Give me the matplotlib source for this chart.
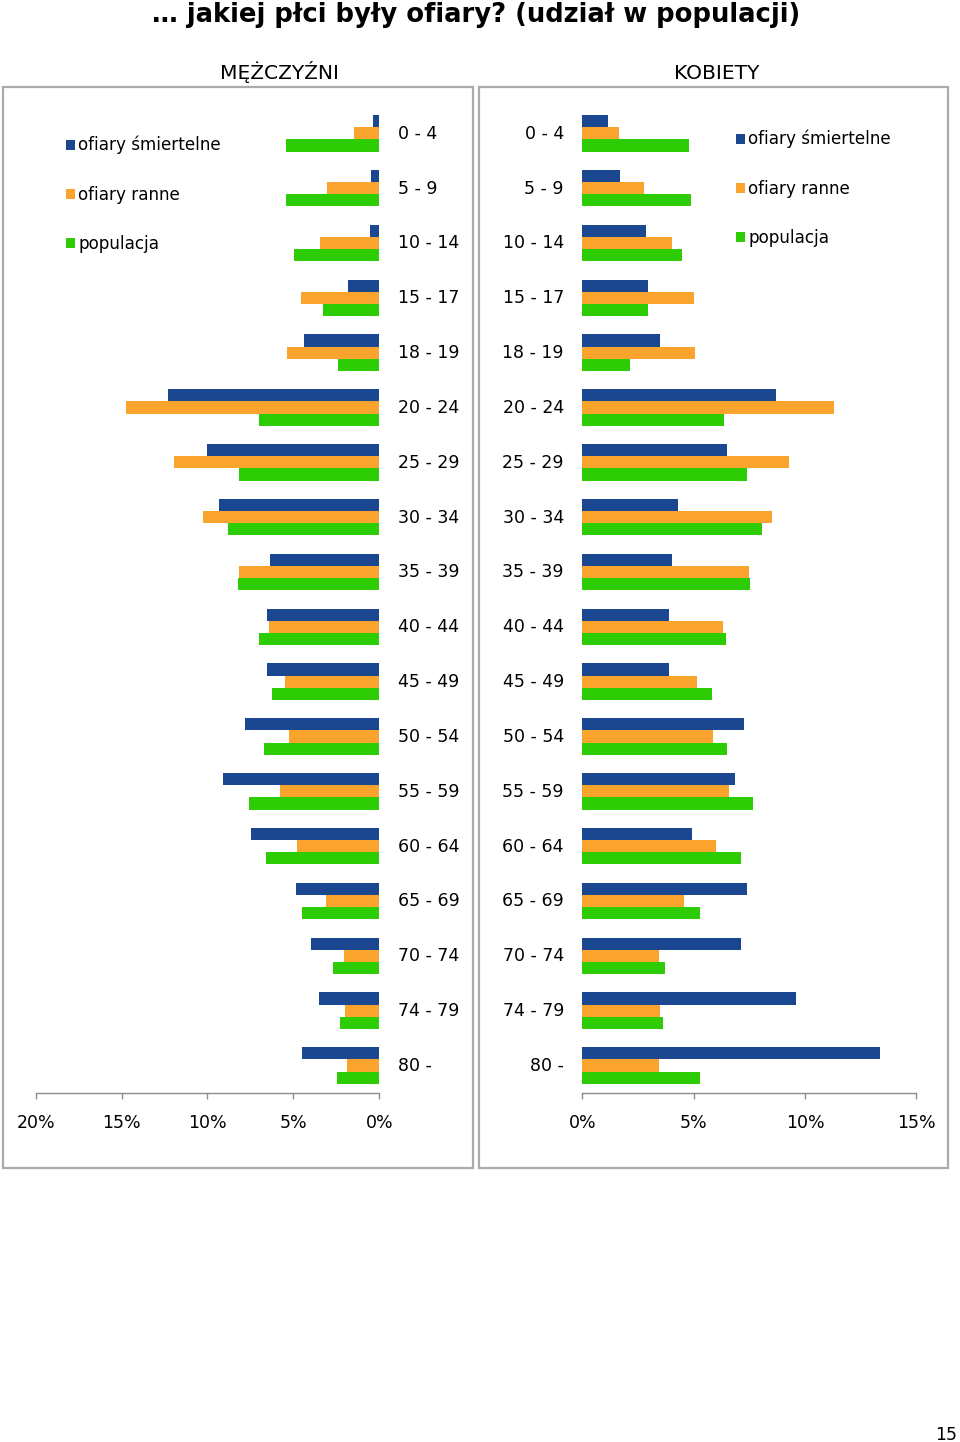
import matplotlib
matplotlib.use('Agg')
import matplotlib.pyplot as plt
from matplotlib.patches import Rectangle
import numpy as np

plt.rcParams['font.family'] = ['DejaVu Sans']

# ---------------- data ----------------
title = '… jakiej płci były ofiary? (udział w populacji)'
panel_titles = ['MĘŻCZYŹNI', 'KOBIETY']
age_groups = ['0 - 4', '5 - 9', '10 - 14', '15 - 17', '18 - 19', '20 - 24', '25 - 29',
              '30 - 34', '35 - 39', '40 - 44', '45 - 49', '50 - 54', '55 - 59',
              '60 - 64', '65 - 69', '70 - 74', '74 - 79', '80 -']
series_names = ['ofiary śmiertelne', 'ofiary ranne', 'populacja']

men_killed = [0.37, 0.50, 0.56, 1.84, 4.37, 12.32, 10.02, 9.32, 6.38, 6.52, 6.52,
              7.84, 9.08, 7.47, 4.83, 3.96, 3.51, 4.50]
men_injured = [1.46, 3.06, 3.45, 4.54, 5.38, 14.75, 11.96, 10.29, 8.17, 6.42, 5.49,
               5.28, 5.80, 4.79, 3.08, 2.07, 1.98, 1.88]
men_population = [5.42, 5.45, 4.99, 3.30, 2.41, 7.02, 8.15, 8.83, 8.25, 7.02, 6.25,
                  6.73, 7.57, 6.60, 4.48, 2.71, 2.29, 2.46]

women_killed = [1.17, 1.68, 2.86, 2.96, 3.50, 8.70, 6.48, 4.28, 4.03, 3.91, 3.91,
                7.28, 6.87, 4.93, 7.41, 7.14, 9.61, 13.38]
women_injured = [1.66, 2.78, 4.01, 5.03, 5.07, 11.30, 9.28, 8.52, 7.50, 6.30, 5.16,
                 5.87, 6.57, 5.99, 4.58, 3.43, 3.49, 3.46]
women_population = [4.80, 4.88, 4.46, 2.95, 2.16, 6.35, 7.40, 8.07, 7.54, 6.47, 5.84,
                     6.50, 7.65, 7.14, 5.27, 3.70, 3.62, 5.27]

men_ticks = [20, 15, 10, 5, 0]
women_ticks = [0, 5, 10, 15]
page_number = '15'

# ---------------- style ----------------
colors = ['#1B4790', '#FAA42D', '#2ECC05']
W, H = 960, 1442
FS = 12.5
GRAY = '#8C8C8C'


def fx(x):
    return x / W


def fy(y):
    return 1 - y / H


fig = plt.figure(figsize=(W / 100, H / 100), dpi=100)

# panel frames
for (x0, x1) in [(3, 473), (479, 948)]:
    fig.add_artist(Rectangle((fx(x0), fy(1168)), fx(x1) - fx(x0), fy(87) - fy(1168),
                             transform=fig.transFigure, facecolor='white',
                             edgecolor='#ABABAB', linewidth=1.6, zorder=0))

fig.text(fx(476), fy(22.5), title, ha='center', va='baseline', fontsize=18.6,
         fontweight='bold', color='black')
fig.text(fx(280), fy(79), panel_titles[0], ha='center', va='baseline', fontsize=14.6)
fig.text(fx(717), fy(79), panel_titles[1], ha='center', va='baseline', fontsize=14.6)

top_px, bot_px = 105.9, 1092.9
axL = fig.add_axes([fx(35.7), fy(bot_px), fx(379.3) - fx(35.7), fy(top_px) - fy(bot_px)])
axR = fig.add_axes([fx(582.3), fy(bot_px), fx(916.3) - fx(582.3), fy(top_px) - fy(bot_px)])

y = np.arange(len(age_groups))
bh = 0.2225
offsets = [-bh, 0, bh]

for ax, data, ticks in [(axL, [men_killed, men_injured, men_population], men_ticks),
                        (axR, [women_killed, women_injured, women_population], women_ticks)]:
    for k in range(3):
        ax.barh(y + offsets[k], data[k], height=bh, color=colors[k], linewidth=0,
                label=series_names[k])
    ax.set_ylim(len(age_groups) - 0.5, -0.5)
    ax.set_yticks(y - 0.03)
    ax.set_yticklabels(age_groups, fontsize=FS)
    ax.set_xticks(ticks)
    ax.set_xticklabels([f'{t}%' for t in ticks], fontsize=FS)
    for s in ['top', 'left', 'right']:
        ax.spines[s].set_visible(False)
    ax.spines['bottom'].set_color(GRAY)
    ax.spines['bottom'].set_linewidth(1.0)
    ax.tick_params(axis='x', direction='out', length=4, width=1.0, color=GRAY, pad=11)
    ax.set_facecolor('none')

axL.set_xlim(20, 0)
axR.set_xlim(0, 15)

axL.yaxis.tick_right()
axL.tick_params(axis='y', length=0, pad=13.5)
for lbl in axL.get_yticklabels():
    lbl.set_ha('left')
axR.tick_params(axis='y', length=0, pad=13.2)

leg_kw = dict(loc='upper left', bbox_transform=fig.transFigure, frameon=False,
              fontsize=12.1, handlelength=0.54, handleheight=0.54, handletextpad=0.2,
              labelspacing=1.86, borderpad=0, borderaxespad=0)
axL.legend(bbox_to_anchor=(fx(66), fy(136)), **leg_kw)
axR.legend(bbox_to_anchor=(fx(736), fy(130)), **leg_kw)

fig.text(fx(957), fy(1439.5), page_number, ha='right', va='baseline', fontsize=12.5)

fig.savefig('out.png', dpi=100)
